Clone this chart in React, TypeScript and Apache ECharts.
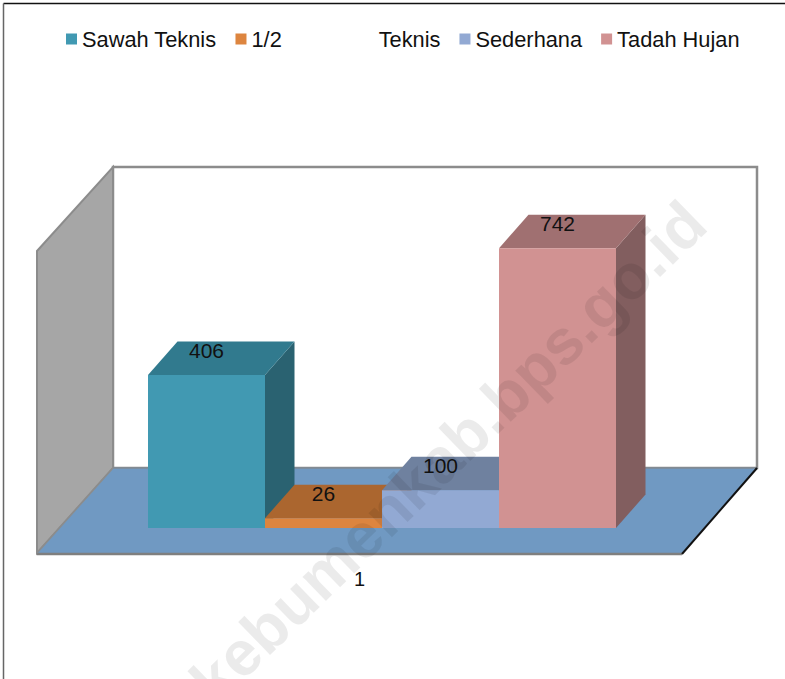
import React, { useEffect, useRef } from "react";
import * as echarts from "echarts";

const categories = ["1"];
const seriesNames = ["Sawah Teknis", "1/2\u00A0\u00A0\u00A0\u00A0\u00A0\u00A0\u00A0\u00A0\u00A0\u00A0\u00A0\u00A0\u00A0\u00A0\u00A0\u00A0Teknis", "Sederhana", "Tadah Hujan"];
const seriesValues = [406, 26, 100, 742];
const frontColors = ["#4199b2", "#dd853f", "#92a9d3", "#d19292"];
const topColors = ["#317a8e", "#ab662f", "#6f819f", "#a07071"];
const sideColors = ["#2a6271", "#8f5527", "#5c6b85", "#825e5f"];

const FONT = '"Liberation Sans", Arial, sans-serif';
const DX = 29.5;
const DY = 33.5;
const SHIFT_X = 22.5;
const SHIFT_Y = 25;
const BAR_FRACTION = 117 / 645;

const renderBar = (i: number) => (params: any, api: any) => {
  const band = api.size([1, 0])[0];
  const w = band * BAR_FRACTION;
  const top = api.coord([0, api.value(1)]);
  const base = api.coord([0, 0]);
  const x0 = top[0] + SHIFT_X + (i - 2) * w;
  const x1 = x0 + w;
  const yt = top[1] - SHIFT_Y;
  const yb = base[1] - SHIFT_Y;
  return {
    type: "group",
    children: [
      { type: "polygon", shape: { points: [[x1, yt], [x1 + DX, yt - DY], [x1 + DX, yb - DY], [x1, yb]] }, style: { fill: sideColors[i] } },
      { type: "polygon", shape: { points: [[x0, yt], [x0 + DX, yt - DY], [x1 + DX, yt - DY], [x1, yt]] }, style: { fill: topColors[i] } },
      { type: "rect", shape: { x: x0, y: yt, width: w, height: yb - yt }, style: { fill: frontColors[i] } },
      {
        type: "text",
        style: {
          x: (x0 + x1) / 2,
          y: yt - 24.5,
          text: String(api.value(1)),
          align: "center",
          verticalAlign: "middle",
          fill: "#111",
          font: `21px ${FONT}`,
        },
      },
    ],
  };
};

export default function App() {
  const ref = useRef<HTMLDivElement>(null);
  useEffect(() => {
    const chart = echarts.init(ref.current!, null, { renderer: "svg" });
    chart.setOption({
      animation: false,
      backgroundColor: "#ffffff",
      legend: {
        left: 61,
        top: 23,
        itemWidth: 11,
        itemHeight: 11,
        itemGap: 19,
        icon: "rect",
        data: seriesNames,
        textStyle: { fontFamily: FONT, fontSize: 21.8, color: "#111" },
      },
      grid: { left: 37, right: 103, top: 251.4, bottom: 126 },
      xAxis: {
        type: "category",
        data: categories,
        axisLine: { show: false },
        axisTick: { show: false },
        axisLabel: { margin: 16, fontFamily: FONT, fontSize: 20, color: "#111" },
      },
      yAxis: { type: "value", min: 0, max: 800, interval: 100, show: false },
      graphic: [
        { type: "line", shape: { x1: 3.5, y1: 3.5, x2: 785, y2: 3.5 }, style: { stroke: "#111", lineWidth: 1.5 } },
        { type: "line", shape: { x1: 3.5, y1: 3.5, x2: 3.5, y2: 679 }, style: { stroke: "#666", lineWidth: 1.5 } },
        { type: "polygon", shape: { points: [[113, 167], [757, 167], [757, 468], [113, 468]] }, style: { fill: "#fff", stroke: "#8c8c8c", lineWidth: 2.5 } },
        { type: "polygon", shape: { points: [[37, 251], [113, 167], [113, 468], [37, 553]] }, style: { fill: "#a6a6a6", stroke: "#8c8c8c", lineWidth: 2 } },
        { type: "polygon", shape: { points: [[37, 553], [113, 468], [757, 468], [682, 553]] }, style: { fill: "#7099c2" } },
        { type: "line", shape: { x1: 113, y1: 468, x2: 757, y2: 468 }, style: { stroke: "#7f8a95", lineWidth: 1.5 } },
        { type: "line", shape: { x1: 37, y1: 554, x2: 682, y2: 554 }, style: { stroke: "#7f7f7f", lineWidth: 2.5 } },
        { type: "line", shape: { x1: 682, y1: 554, x2: 757, y2: 468 }, style: { stroke: "#111", lineWidth: 2 } },
        { type: "line", shape: { x1: 37, y1: 553, x2: 113, y2: 468 }, style: { stroke: "#8c8c8c", lineWidth: 1.5 } },
        {
          type: "text",
          z: 100,
          x: 448,
          y: 452,
          rotation: 0.77,
          silent: true,
          style: {
            text: "kebumenkab.bps.go.id",
            align: "center",
            verticalAlign: "middle",
            fill: "rgba(0,0,0,0.08)",
            font: `bold 63.5px ${FONT}`,
          },
        },
      ],
      series: seriesNames.map((name, i) => ({
        type: "custom",
        name,
        clip: false,
        itemStyle: { color: frontColors[i] },
        encode: { x: 0, y: 1 },
        data: [[0, seriesValues[i]]],
        renderItem: renderBar(i),
      })),
    });
    return () => chart.dispose();
  }, []);
  return <div ref={ref} style={{ position: "fixed", left: 0, top: 0, width: 785, height: 679 }} />;
}
